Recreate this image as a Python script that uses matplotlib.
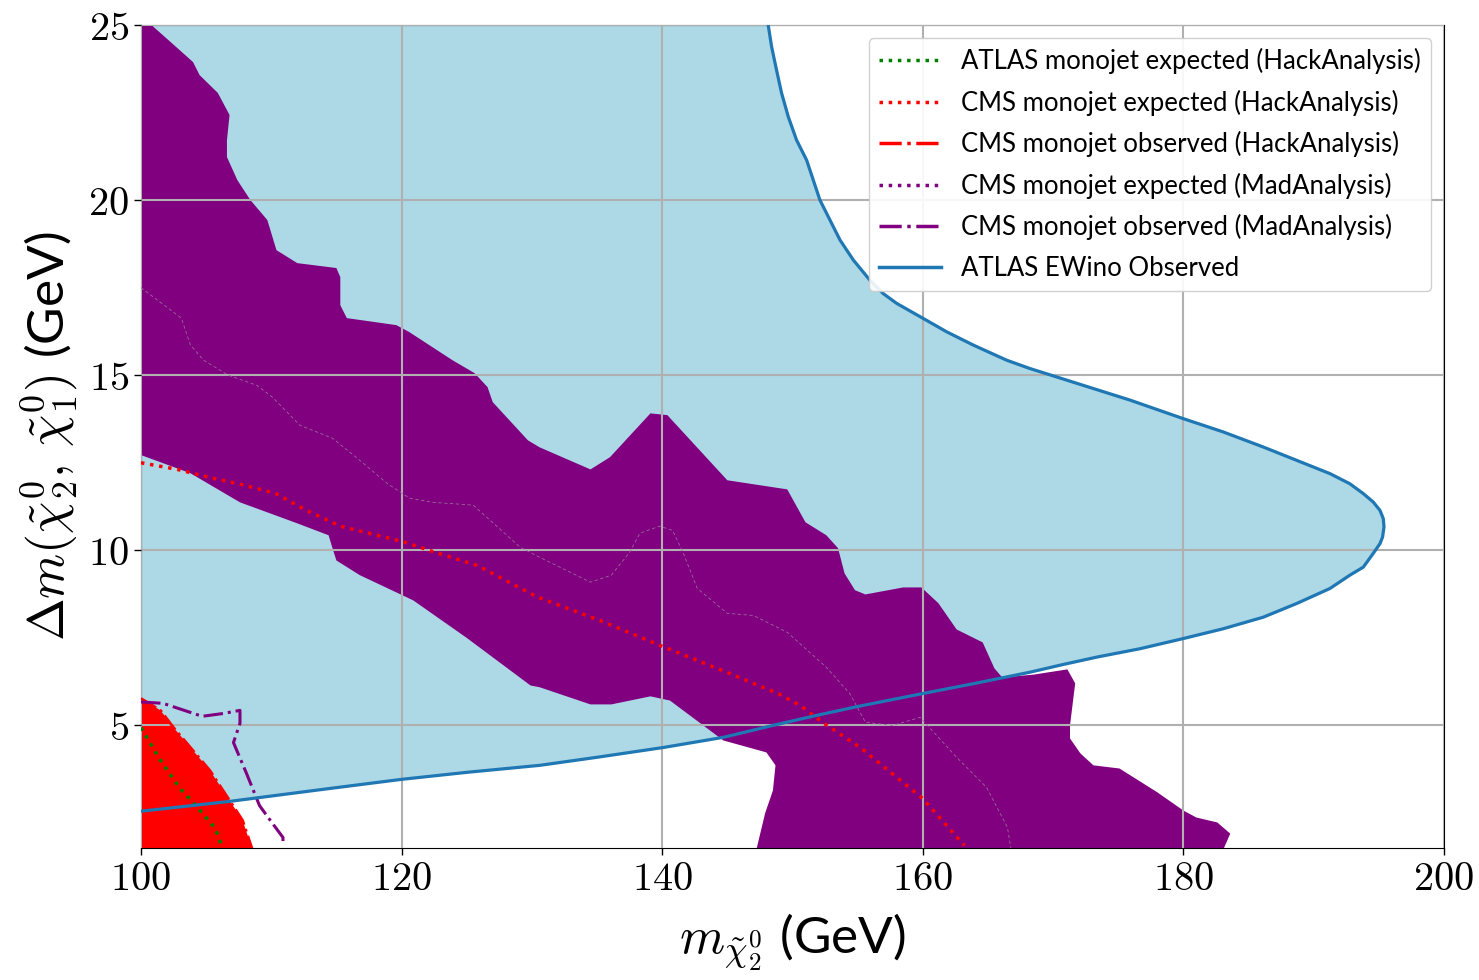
import matplotlib
matplotlib.use("AGG")
import matplotlib.pyplot as plt
from matplotlib.lines import Line2D
from matplotlib.ticker import FuncFormatter, MultipleLocator

plt.rcParams['mathtext.fontset'] = 'cm'
plt.rcParams['font.family'] = ['Lato', 'DejaVu Sans']

# ATLAS EWino observed contour (lower branch -> tip -> upper branch)
ewino_x = [100.0, 106.8, 114.5, 120.0, 125.0, 130.6, 135.0, 140.1, 144.7, 148.5,
           151.9, 155.0, 160.0, 164.0, 168.23, 170.78, 173.35, 176.67, 179.99, 183.06,
           186.13, 188.69, 191.25, 192.78, 193.81, 194.57, 195.09, 195.29, 195.40, 195.34,
           195.09, 194.57, 193.81, 192.78, 191.25, 188.69, 186.13, 183.06, 179.99, 175.90,
           172.32, 170.28, 168.23, 166.43, 163.88, 161.83, 160.04, 158.0, 156.97, 155.95,
           154.67, 153.65, 152.88, 152.11, 151.09, 150.32, 149.68, 149.17, 148.78, 148.40,
           148.14]
ewino_y = [2.55, 2.83, 3.2, 3.46, 3.66, 3.86, 4.09, 4.37, 4.66, 5.0,
           5.29, 5.54, 5.91, 6.2, 6.52, 6.74, 6.95, 7.19, 7.48, 7.76,
           8.09, 8.48, 8.91, 9.29, 9.52, 9.91, 10.19, 10.38, 10.67, 10.91,
           11.14, 11.38, 11.62, 11.90, 12.19, 12.57, 12.95, 13.38, 13.76, 14.29,
           14.71, 14.95, 15.19, 15.43, 15.86, 16.24, 16.62, 17.05, 17.33, 17.71,
           18.29, 18.86, 19.43, 20.0, 21.14, 21.71, 22.38, 23.05, 23.71, 24.38,
           25.0]

# CMS monojet observed (MadAnalysis), filled band: upper edge then lower edge
mad_up_x = [100.0, 100.8, 102.8, 104.0, 104.5, 105.9, 106.8, 106.6, 106.6, 107.4,
            108.4, 109.7, 110.4, 112.0, 115.0, 115.3, 115.3, 115.8, 119.6, 120.6,
            123.9, 125.6, 126.6, 127.0, 129.7, 130.6, 134.5, 136.0, 139.1, 140.4,
            145.0, 149.6, 151.0, 152.6, 153.5, 154.0, 154.8, 155.6, 158.5, 159.9,
            161.2, 162.6, 164.6, 165.5, 166.1, 168.5, 171.1, 171.7, 171.3, 171.3,
            172.1, 173.1, 175.1, 178.0, 180.0, 181.0, 182.6, 183.6, 183.0]
mad_up_y = [25.0, 25.0, 24.34, 23.94, 23.57, 23.06, 22.43, 21.71, 21.23, 20.57,
            20.0, 19.43, 18.57, 18.2, 18.06, 17.8, 17.0, 16.63, 16.43, 16.23,
            15.43, 15.06, 14.66, 14.23, 13.14, 12.94, 12.31, 12.66, 13.91, 13.86,
            12.0, 11.74, 10.8, 10.43, 10.06, 9.34, 8.86, 8.74, 8.94, 8.94,
            8.49, 7.74, 7.37, 6.63, 6.37, 6.45, 6.6, 6.2, 5.0, 4.63,
            4.2, 3.86, 3.77, 3.09, 2.57, 2.37, 2.23, 1.91, 1.4]
mad_lo_x = [147.2, 147.9, 148.5, 148.7, 148.0, 144.7, 140.6, 139.1, 136.1, 134.5,
            130.6, 129.9, 125.0, 120.9, 116.8, 115.0, 114.7, 114.4, 112.0, 107.6,
            103.8, 100.0]
mad_lo_y = [1.4, 2.49, 3.14, 3.86, 4.23, 4.57, 5.71, 5.83, 5.6, 5.6,
            6.09, 6.14, 7.5, 8.57, 9.29, 9.71, 10.06, 10.43, 10.77, 11.37,
            12.2, 12.72]

# CMS monojet expected (MadAnalysis)
mad_exp_x = [100.0, 103.1, 103.8, 104.8, 106.7, 108.9, 110.1, 112.2, 114.7, 116.6,
             118.9, 120.6, 122.4, 125.5, 129.1, 130.6, 134.5, 136.1, 137.5, 138.3,
             139.8, 140.8, 141.6, 142.7, 145.0, 147.0, 149.6, 152.6, 154.4, 155.6,
             157.7, 159.8, 162.6, 164.9, 166.5, 166.8]
mad_exp_y = [17.5, 16.63, 15.86, 15.43, 15.0, 14.71, 14.37, 13.57, 13.2, 12.63,
             11.91, 11.49, 11.37, 11.29, 10.09, 9.8, 9.09, 9.29, 9.94, 10.49,
             10.69, 10.57, 9.94, 8.91, 8.2, 8.14, 7.66, 6.66, 5.91, 5.09,
             5.0, 5.23, 4.09, 3.23, 2.09, 1.4]

# CMS monojet observed (MadAnalysis), small region at low mass
mad_obs_x = [100.0, 101.7, 104.7, 106.3, 107.6, 107.6, 107.1, 108.1, 109.1, 110.1,
             110.9, 110.9]
mad_obs_y = [5.67, 5.63, 5.26, 5.34, 5.43, 5.06, 4.51, 3.63, 2.71, 2.2,
             1.8, 1.57]

# CMS monojet observed (HackAnalysis)
hack_obs_x = [100.0, 101.5, 102.5, 103.8, 105.3, 106.8, 107.8, 108.6, 100.0]
hack_obs_y = [5.77, 5.43, 4.94, 4.37, 3.71, 2.86, 2.29, 1.4, 1.4]

# CMS monojet expected (HackAnalysis)
hack_exp_x = [100.0, 102.8, 105.5, 107.6, 110.3, 112.7, 115.3, 117.8, 120.0, 122.6,
              125.8, 130.4, 135.4, 140.0, 145.0, 147.0, 148.9, 150.6, 152.3, 155.2,
              160.0, 163.2]
hack_exp_y = [12.5, 12.31, 12.06, 11.89, 11.63, 11.14, 10.69, 10.46, 10.26, 9.94,
              9.57, 8.67, 7.97, 7.26, 6.51, 6.2, 5.91, 5.57, 5.09, 4.37,
              2.91, 1.57]

# ATLAS monojet expected (HackAnalysis)
atlas_exp_x = [100.0, 101.5, 103.0, 104.4, 105.7, 106.2]
atlas_exp_y = [4.94, 4.0, 3.2, 2.63, 2.06, 1.57]

fig = plt.figure(figsize=(14.79, 9.8), dpi=100)
ax = fig.add_axes([0.0953, 0.1347, 0.881, 0.8398])

ax.fill(ewino_x + [100.0], ewino_y + [25.0], color='lightblue', lw=0, zorder=1)
ax.fill(mad_up_x + mad_lo_x, mad_up_y + mad_lo_y, color='purple', lw=0, zorder=1.1)
ax.fill(hack_obs_x, hack_obs_y, color='red', lw=0, zorder=1.2)

ax.plot(mad_exp_x, mad_exp_y, color='#9a6a9a', lw=0.6, ls=(0, (4, 3)), zorder=3)
ax.plot(hack_obs_x[:-1], hack_obs_y[:-1], color='red', lw=2, ls='-.', zorder=3)
ax.plot(atlas_exp_x, atlas_exp_y, color='green', lw=2.5, ls=':', zorder=3)
ax.plot(hack_exp_x, hack_exp_y, color='red', lw=2.5, ls=':', zorder=3)
ax.plot(mad_obs_x, mad_obs_y, color='purple', lw=2.2, ls='-.', zorder=3)
ax.plot(ewino_x, ewino_y, color='#1f77b4', lw=2.3, zorder=3.5)

ax.set_xlim(100, 200)
ax.set_ylim(1.5, 25)
ax.xaxis.set_major_locator(MultipleLocator(20))
ax.yaxis.set_major_locator(MultipleLocator(5))
tick_fmt = FuncFormatter(lambda v, p: '$%g$' % v)
ax.xaxis.set_major_formatter(tick_fmt)
ax.yaxis.set_major_formatter(tick_fmt)
ax.tick_params(labelsize=29, length=5, width=1)
ax.set_axisbelow(False)
ax.grid(True, color='#b0b0b0', lw=1.5, zorder=2.5)

ax.set_xlabel(r'$m_{\tilde{\chi}^0_2}$ (GeV)', fontsize=37, labelpad=10)
ax.set_ylabel(r'$\Delta m(\tilde{\chi}^0_2,\, \tilde{\chi}^0_1)$ (GeV)', fontsize=37, labelpad=6)

handles = [
    Line2D([], [], color='green', lw=2.5, ls=':'),
    Line2D([], [], color='red', lw=2.5, ls=':'),
    Line2D([], [], color='red', lw=2.5, ls='-.'),
    Line2D([], [], color='purple', lw=2.5, ls=':'),
    Line2D([], [], color='purple', lw=2.5, ls='-.'),
    Line2D([], [], color='#1f77b4', lw=2.5),
]
labels = ['ATLAS monojet expected (HackAnalysis)',
          'CMS monojet expected (HackAnalysis)',
          'CMS monojet observed (HackAnalysis)',
          'CMS monojet expected (MadAnalysis)',
          'CMS monojet observed (MadAnalysis)',
          'ATLAS EWino Observed']
leg = ax.legend(handles, labels, loc='upper right', fontsize=18.5, handlelength=2.4,
                labelspacing=0.6, framealpha=0.9)
leg.set_zorder(5)

plt.savefig('out.png', dpi=100)
